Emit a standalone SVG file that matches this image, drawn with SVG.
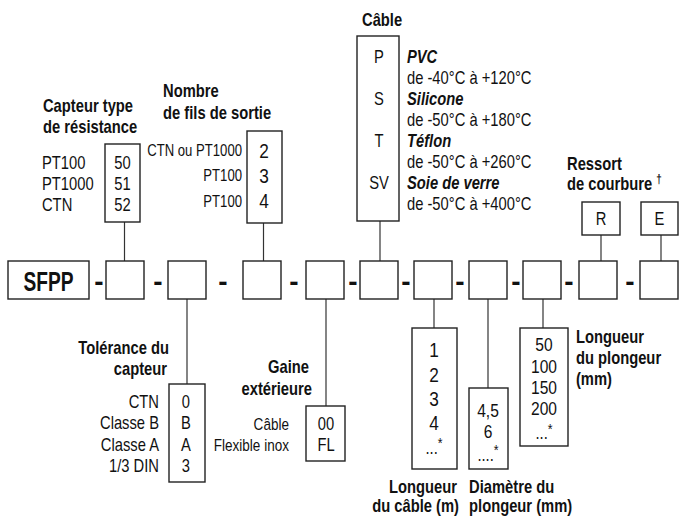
<svg xmlns="http://www.w3.org/2000/svg" width="679" height="516" viewBox="0 0 679 516">
<style>
text{font-family:"Liberation Sans",Arial,sans-serif;fill:#111;font-size:18px}
.b{font-weight:bold}
.bi{font-weight:bold;font-style:italic}
.v{font-size:21px}
.n{font-size:19px}
.s{font-size:16px}
.s2{font-size:16.5px}
.m{text-anchor:middle}
.e{text-anchor:end}
.box{fill:#fff;stroke:#222;stroke-width:1.4}
.ln{stroke:#333;stroke-width:1.2;fill:none}
.d{font-weight:bold;font-size:28px;text-anchor:middle}
.sup{font-size:12px}
.ast{font-size:15px}
</style>
<g id="connectors">
<line class="ln" x1="124.5" y1="222" x2="124.5" y2="261"/>
<line class="ln" x1="263.5" y1="223" x2="263.5" y2="261"/>
<line class="ln" x1="380" y1="221" x2="380" y2="261"/>
<line class="ln" x1="601" y1="235" x2="601" y2="261"/>
<line class="ln" x1="661" y1="235" x2="661" y2="261"/>
<line class="ln" x1="187" y1="299" x2="187" y2="384"/>
<line class="ln" x1="326" y1="299" x2="326" y2="406"/>
<line class="ln" x1="434" y1="299" x2="434" y2="328"/>
<line class="ln" x1="488" y1="299" x2="488" y2="388"/>
<line class="ln" x1="543" y1="299" x2="543" y2="328"/>
</g>
<g id="main-row">
<rect class="box" x="8" y="261" width="81" height="38"/>
<text class="b m" x="48.5" y="291" style="font-size:27px" textLength="50" lengthAdjust="spacingAndGlyphs">SFPP</text>
<rect class="box" x="106" y="261" width="38" height="38"/>
<rect class="box" x="168" y="261" width="38" height="38"/>
<rect class="box" x="243" y="261" width="38" height="38"/>
<rect class="box" x="306" y="261" width="38" height="38"/>
<rect class="box" x="360" y="261" width="38" height="38"/>
<rect class="box" x="414" y="261" width="38" height="38"/>
<rect class="box" x="469" y="261" width="38" height="38"/>
<rect class="box" x="523" y="261" width="38" height="38"/>
<rect class="box" x="579" y="261" width="38" height="38"/>
<rect class="box" x="640" y="261" width="38" height="38"/>
<text class="d" x="99" y="291">-</text>
<text class="d" x="158" y="291">-</text>
<text class="d" x="223" y="291">-</text>
<text class="d" x="294" y="291">-</text>
<text class="d" x="353" y="291">-</text>
<text class="d" x="406" y="291">-</text>
<text class="d" x="460" y="291">-</text>
<text class="d" x="516" y="291">-</text>
<text class="d" x="569" y="291">-</text>
<text class="d" x="630" y="291">-</text>
</g>
<g id="capteur-type">
<rect class="box" x="105" y="144" width="35" height="78"/>
<g transform="scale(0.82 1)">
<text class="b" x="52.4" y="112">Capteur type</text>
<text class="b" x="52.4" y="133">de résistance</text>
<text x="51.2" y="169">PT100</text>
<text x="51.2" y="190">PT1000</text>
<text x="51.2" y="211">CTN</text>
<text class="m" x="149.4" y="169">50</text>
<text class="m" x="149.4" y="190">51</text>
<text class="m" x="149.4" y="211">52</text>
</g>
</g>
<g id="nombre-fils">
<rect class="box" x="247" y="131" width="35" height="92"/>
<g transform="scale(0.82 1)">
<text class="b" x="198.8" y="97">Nombre</text>
<text class="b" x="198.8" y="119">de fils de sortie</text>
<text class="e s" x="295.1" y="156">CTN ou PT1000</text>
<text class="e s" x="295.1" y="181">PT100</text>
<text class="e s" x="295.1" y="207">PT100</text>
<text class="m v" x="322" y="158">2</text>
<text class="m v" x="322" y="183">3</text>
<text class="m v" x="322" y="208">4</text>
</g>
</g>
<g id="cable">
<rect class="box" x="357" y="36" width="42" height="185"/>
<g transform="scale(0.82 1)">
<text class="b" x="441.5" y="26">Câble</text>
<text class="m" x="462.2" y="63">P</text>
<text class="m" x="462.2" y="105">S</text>
<text class="m" x="462.2" y="147">T</text>
<text class="m" x="462.2" y="189">SV</text>
<text class="bi" x="496.3" y="63">PVC</text>
<text x="496.3" y="84">de -40°C à +120°C</text>
<text class="bi" x="496.3" y="105">Silicone</text>
<text x="496.3" y="126">de -50°C à +180°C</text>
<text class="bi" x="496.3" y="147">Téflon</text>
<text x="496.3" y="168">de -50°C à +260°C</text>
<text class="bi" x="496.3" y="189">Soie de verre</text>
<text x="496.3" y="210">de -50°C à +400°C</text>
</g>
</g>
<g id="ressort">
<rect class="box" x="582" y="202" width="38" height="33"/>
<g transform="scale(0.82 1)">
<text class="b" x="691.5" y="170">Ressort</text>
<text class="b" x="691.5" y="190">de courbure <tspan class="sup" dy="-7">†</tspan></text>
<text class="m" x="732.9" y="225">R</text>
</g>
</g>
<g id="e-option">
<rect class="box" x="641" y="202" width="37" height="33"/>
<g transform="scale(0.82 1)">
<text class="m" x="804.3" y="225">E</text>
</g>
</g>
<g id="tolerance">
<rect class="box" x="169" y="384" width="36" height="98"/>
<g transform="scale(0.82 1)">
<text class="b e" x="206.1" y="354">Tolérance du</text>
<text class="b e" x="203.7" y="375">capteur</text>
<text class="e" x="193.9" y="408">CTN</text>
<text class="e" x="193.9" y="429">Classe B</text>
<text class="e" x="193.9" y="451">Classe A</text>
<text class="e" x="193.9" y="472">1/3 DIN</text>
<text class="m" x="226.8" y="408">0</text>
<text class="m" x="226.8" y="429">B</text>
<text class="m" x="226.8" y="451">A</text>
<text class="m" x="226.8" y="472">3</text>
</g>
</g>
<g id="gaine">
<rect class="box" x="306" y="406" width="39" height="55"/>
<g transform="scale(0.82 1)">
<text class="b e" x="376.8" y="373">Gaine</text>
<text class="b e" x="380.5" y="395">extérieure</text>
<text class="e s2" x="352.4" y="430">Câble</text>
<text class="e s2" x="352.4" y="451">Flexible inox</text>
<text class="m" x="397.6" y="430">00</text>
<text class="m" x="397.6" y="451">FL</text>
</g>
</g>
<g id="longueur-cable">
<rect class="box" x="412" y="328" width="45" height="141"/>
<g transform="scale(0.82 1)">
<text class="m v" x="529.3" y="357">1</text>
<text class="m v" x="529.3" y="382">2</text>
<text class="m v" x="529.3" y="406">3</text>
<text class="m v" x="529.3" y="430">4</text>
<text class="m" x="529.3" y="454">...<tspan class="ast" dy="-6">*</tspan></text>
<text class="b e" x="557.3" y="493">Longueur</text>
<text class="b e" x="559.8" y="512">du câble (m)</text>
</g>
</g>
<g id="diametre">
<rect class="box" x="469" y="388" width="39" height="81"/>
<g transform="scale(0.82 1)">
<text class="m n" x="595.1" y="417">4,5</text>
<text class="m n" x="595.1" y="438">6</text>
<text class="m" x="595.1" y="461">....<tspan class="ast" dy="-6">*</tspan></text>
<text class="b" x="572" y="493">Diamètre du</text>
<text class="b" x="572" y="512">plongeur (mm)</text>
</g>
</g>
<g id="longueur-plongeur">
<rect class="box" x="520" y="328" width="48" height="118"/>
<g transform="scale(0.82 1)">
<text class="m n" x="663.4" y="351">50</text>
<text class="m n" x="663.4" y="373">100</text>
<text class="m n" x="663.4" y="394">150</text>
<text class="m n" x="663.4" y="415">200</text>
<text class="m" x="663.4" y="439">...<tspan class="ast" dy="-5">*</tspan></text>
<text class="b" x="702.4" y="343">Longueur</text>
<text class="b" x="702.4" y="364">du plongeur</text>
<text class="b" x="702.4" y="385">(mm)</text>
</g>
</g>
</svg>
